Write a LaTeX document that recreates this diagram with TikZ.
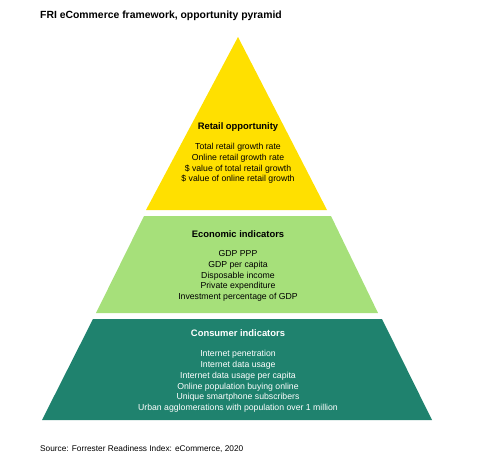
\documentclass[tikz,border=0pt]{standalone}
\usepackage{fontspec}
\setmainfont{Liberation Sans}
\definecolor{retailyellow}{HTML}{FFE000}
\definecolor{econgreen}{HTML}{A6E07A}
\definecolor{consumerteal}{HTML}{1F826E}
\begin{document}
\begin{tikzpicture}[x=1pt,y=-1pt,
  head/.style={font=\fontsize{9.4}{11}\selectfont\bfseries,anchor=base},
  items/.style={font=\fontsize{8.7}{10.7}\selectfont,align=center,anchor=north,inner sep=0pt}]
\useasboundingbox (0,0) rectangle (477,463);
% pyramid layers
\coordinate (apex) at (238,37);
\fill[retailyellow] (apex)--(327,210)--(146,210)--cycle;
\fill[econgreen] (144,216)--(331,216)--(378,313)--(96,313)--cycle;
\fill[consumerteal] (93,319)--(382,319)--(432,420)--(42,420)--cycle;
% texts
\node[font=\fontsize{10.4}{12}\selectfont\bfseries,anchor=base west,inner sep=0pt] (title) at (40,18.5) {FRI eCommerce framework, opportunity pyramid};
\node[head] (retail) at (238,129.5) {Retail opportunity};
\node[items] (retaillist) at (238,143.2) {Total retail growth rate\\Online retail growth rate\\\$ value of total retail growth\\\$ value of online retail growth};
\node[head] (econ) at (238,237.3) {Economic indicators};
\node[items] (econlist) at (238,250.4) {GDP PPP\\GDP per capita\\Disposable income\\Private expenditure\\Investment percentage of GDP};
\node[head,white] (consumer) at (238,336.7) {Consumer indicators};
\node[items,white] (consumerlist) at (238,350.4) {Internet penetration\\Internet data usage\\Internet data usage per capita\\Online population buying online\\Unique smartphone subscribers\\Urban agglomerations with population over 1 million};
\node[font=\fontsize{8.3}{10}\selectfont,anchor=base west,inner sep=0pt] (source) at (40,451) {Source: Forrester Readiness Index: eCommerce, 2020};
\end{tikzpicture}
\end{document}
